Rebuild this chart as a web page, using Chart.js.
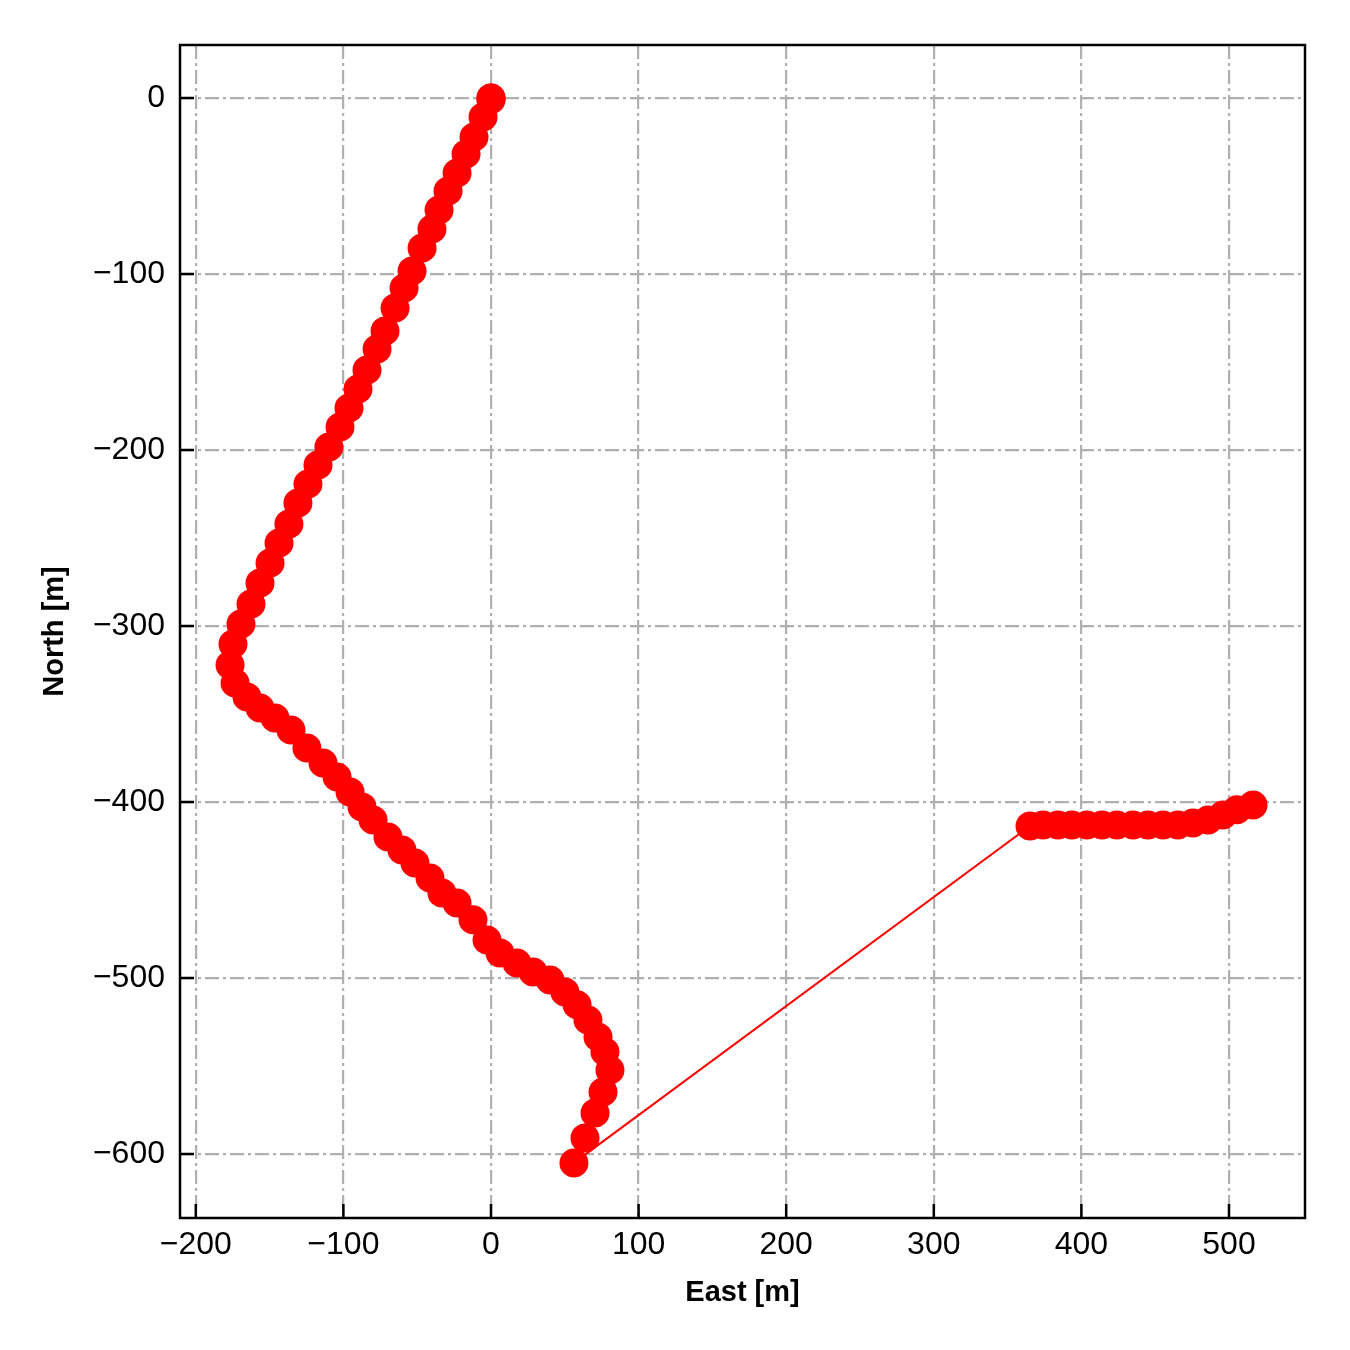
<!DOCTYPE html>
<html>
<head>
  <title>East / North track</title>
  <script src="https://cdn.jsdelivr.net/npm/chart.js"></script>
  <style>
    body {
      margin: 0;
      background: white;
    }
    #wrap {
      width: 1350px;
      height: 1350px;
    }
  </style>
</head>
<body>

  <div id="wrap">
    <canvas id="trackChart" width="1350" height="1350"></canvas>
  </div>

  <script>
    // track positions, in metres
    const eastM = [
      0, 0, 0, -5.4, -11.5, -16.9, -23.0, -29.1, -35.2, -40.0, -46.7, -53.5, -58.9, -65.0,
      -71.8, -77.2, -84.0, -90.1, -96.2, -102.3, -109.8, -117.2, -124.0, -130.8, -136.9,
      -143.6, -149.7, -156.5, -162.6, -169.4, -174.8, -176.8, -173.4, -165.3, -156.5,
      -146.3, -135.5, -124.7, -113.8, -104.3, -95.5, -87.4, -79.9, -69.8, -60.3, -51.5,
      -41.3, -33.2, -23.0, -12.2, -2.7, 6.1, 17.6, 28.5, 40.0, 50.1, 58.3, 65.7, 72.5,
      77.2, 80.6, 75.9, 70.5, 63.7, 56.2,
      365.2, 374.0, 384.1, 393.6, 403.8, 414.0, 424.1, 435.0, 445.1, 455.3, 465.4,
      475.6, 485.8, 495.9, 505.4, 516.3
    ];
    const northM = [
      0, 0, -1, -10.8, -22.2, -31.8, -42.6, -52.8, -63.6, -74.4, -85.2, -98.3, -108.0, -119.3,
      -132.4, -142.6, -154.5, -165.3, -176.1, -186.9, -198.3, -208.5, -219.3, -230.1, -242.0,
      -252.8, -264.2, -275.6, -287.5, -298.9, -310.2, -322.2, -332.4, -340.3, -346.6,
      -352.3, -359.1, -369.3, -377.8, -385.8, -394.3, -402.8, -410.2, -419.9, -427.3, -434.7,
      -443.2, -451.7, -457.4, -467.0, -478.4, -485.8, -491.5, -496.6, -501.1, -508.0, -515.3,
      -523.9, -533.5, -542.0, -552.3, -564.8, -576.7, -590.9, -605.1,
      -413.6, -413.1, -413.1, -413.1, -413.1, -413.1, -413.1, -413.1, -413.1, -413.1, -413.1,
      -411.9, -410.2, -407.4, -404.5, -401.7
    ];

    const xLimits = [-210.7, 551.5];
    const yLimits = [-636.4, 30.1];

    const FONT = "'Liberation Sans', Arial, sans-serif";
    const minusFmt = v => v < 0 ? '\u2212' + Math.abs(v) : String(v);

    // matplotlib-like frame with inward ticks
    const framePlugin = {
      id: 'frame',
      afterDraw(chart) {
        const { ctx, chartArea: a } = chart;
        ctx.save();
        ctx.strokeStyle = 'black';
        ctx.lineWidth = 2.5;
        ctx.beginPath();
        chart.scales.x.ticks.forEach(t => {
          const px = chart.scales.x.getPixelForValue(t.value);
          ctx.moveTo(px, a.bottom);
          ctx.lineTo(px, a.bottom - 14);
        });
        chart.scales.y.ticks.forEach(t => {
          const py = chart.scales.y.getPixelForValue(t.value);
          ctx.moveTo(a.left, py);
          ctx.lineTo(a.left + 14, py);
        });
        ctx.stroke();
        ctx.strokeRect(a.left, a.top, a.right - a.left, a.bottom - a.top);
        ctx.restore();
      }
    };

    const gridStyle = {
      color: '#b0b0b0',
      lineWidth: 2.2,
      drawTicks: false
    };

    const ctx = document.getElementById('trackChart').getContext('2d');
    const trackChart = new Chart(ctx, {
      type: 'scatter',
      data: {
        datasets: [{
          data: eastM.map((e, i) => ({ x: e, y: northM[i] })),
          showLine: true,
          borderColor: '#ff0000',
          borderWidth: 2,
          backgroundColor: '#ff0000',
          pointRadius: 14.5,
          pointBorderWidth: 0,
          pointHoverRadius: 14.5
        }]
      },
      options: {
        responsive: false,
        animation: false,
        layout: {
          padding: { left: 0, top: 45, right: 45, bottom: 0 }
        },
        plugins: {
          legend: { display: false },
          tooltip: { enabled: false }
        },
        scales: {
          x: {
            type: 'linear',
            min: xLimits[0],
            max: xLimits[1],
            afterFit: s => { s.height = 132; },
            border: { display: false, dash: [14, 4, 3, 4] },
            grid: gridStyle,
            ticks: {
              stepSize: 100,
              includeBounds: false,
              padding: 8,
              color: 'black',
              font: { family: FONT, size: 32 },
              callback: minusFmt
            },
            title: {
              display: true,
              text: 'East [m]',
              color: 'black',
              font: { family: FONT, size: 29, weight: 'bold' },
              padding: { top: 0, bottom: 40 }
            }
          },
          y: {
            type: 'linear',
            min: yLimits[0],
            max: yLimits[1],
            afterFit: s => { s.width = 180; },
            border: { display: false, dash: [14, 4, 3, 4] },
            grid: gridStyle,
            ticks: {
              stepSize: 100,
              includeBounds: false,
              padding: 15,
              color: 'black',
              font: { family: FONT, size: 32 },
              callback: minusFmt
            },
            title: {
              display: true,
              text: 'North [m]',
              color: 'black',
              font: { family: FONT, size: 29, weight: 'bold' },
              padding: { top: 38, bottom: 0 }
            }
          }
        }
      },
      plugins: [framePlugin]
    });
  </script>

</body>
</html>
